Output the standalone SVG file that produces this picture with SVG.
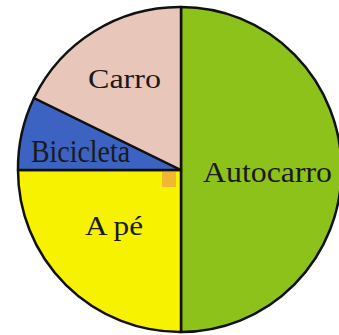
<svg xmlns="http://www.w3.org/2000/svg" width="339" height="335" viewBox="0 0 339 335">
<style>
.sl{stroke:#111;stroke-width:2.5;stroke-linejoin:round}
.lb{font-family:"Liberation Serif","Times New Roman",serif;fill:#1a1a1a}
</style>
<rect width="339" height="335" fill="#fff"/>
<g id="autocarro">
<path class="sl" d="M181,170 L181,7 A160,162 0 0 1 181,332 Z" fill="#8cc21a"/>
<text class="lb" x="203" y="182" font-size="30" textLength="129" lengthAdjust="spacingAndGlyphs">Autocarro</text>
</g>
<g id="ape">
<path class="sl" d="M181,170 L181,332 A162,162 0 0 1 18,170 Z" fill="#f6f200"/>
<rect x="162" y="172" width="14" height="15" fill="#f0b832"/>
<text class="lb" x="85" y="235" font-size="27" textLength="58" lengthAdjust="spacingAndGlyphs">A pé</text>
</g>
<g id="bicicleta">
<path class="sl" d="M181,170 L18,170 A162,162 0 0 1 34,98 Z" fill="#3c62c2"/>
<text class="lb" x="31" y="162" font-size="31" textLength="99" lengthAdjust="spacingAndGlyphs">Bicicleta</text>
</g>
<g id="carro">
<path class="sl" d="M181,170 L34,98 A162,162 0 0 1 181,7 Z" fill="#e9c6ba"/>
<text class="lb" x="88" y="88" font-size="27" textLength="73" lengthAdjust="spacingAndGlyphs">Carro</text>
</g>
</svg>
